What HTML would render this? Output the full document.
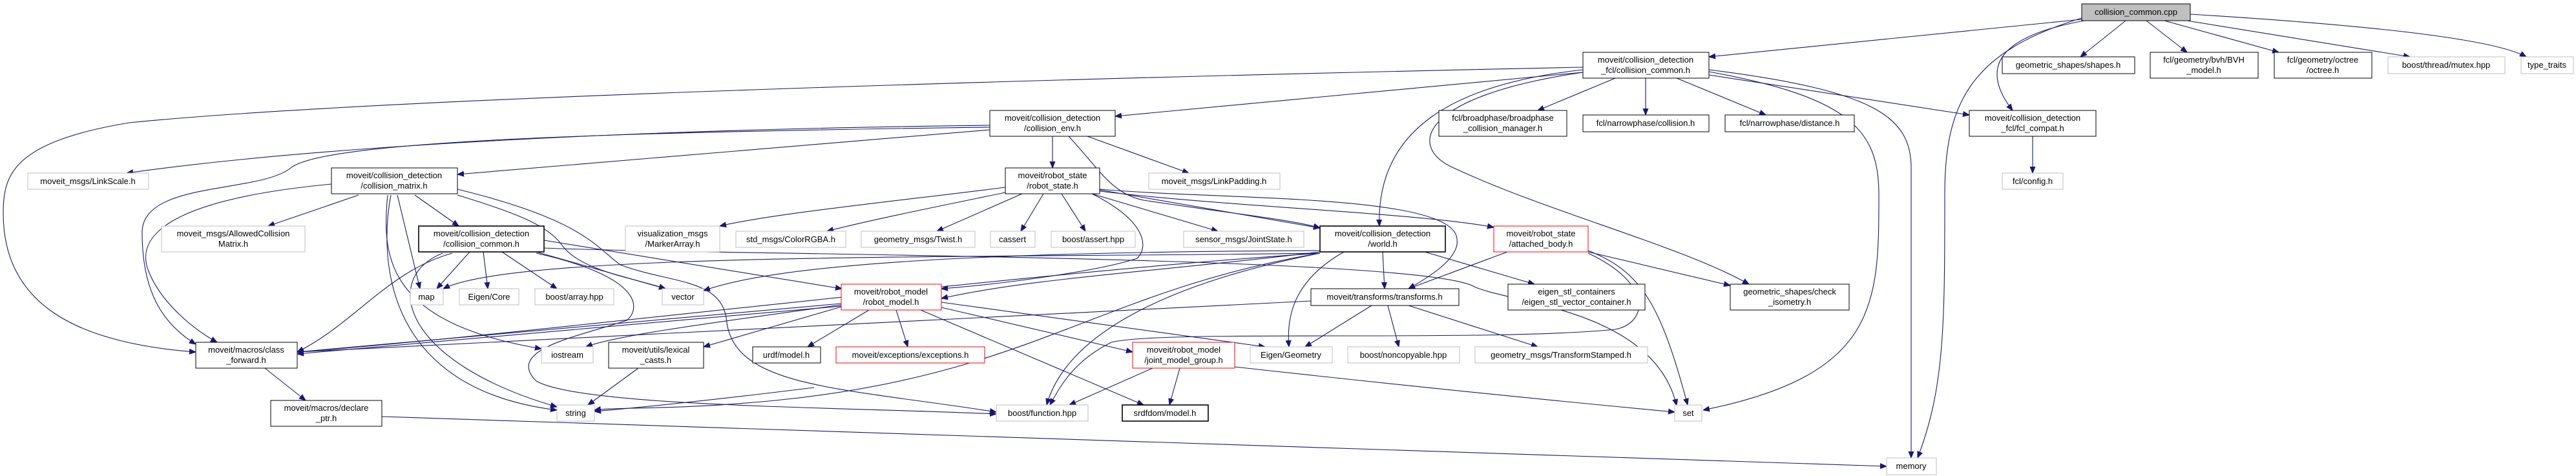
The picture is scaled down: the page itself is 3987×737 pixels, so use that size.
<!DOCTYPE html>
<html><head><meta charset="utf-8"><style>
html,body{margin:0;padding:0;background:#fff;}
svg{display:block;}
text{font-family:"Liberation Sans","DejaVu Sans",sans-serif;font-size:13px;fill:#000;text-anchor:middle;}
.e{fill:none;stroke:#191970;stroke-width:1.1;marker-end:url(#a);}
.b{fill:#fff;stroke:#000;stroke-width:1;}
.g{fill:#fff;stroke:#bfbfbf;stroke-width:1;}
.r{fill:#fff;stroke:#ff0000;stroke-width:1;}
</style></head><body>
<svg width="3987" height="737" viewBox="0 0 3987 737" xmlns="http://www.w3.org/2000/svg">
<defs><marker id="a" viewBox="0 0 10 10" refX="10" refY="5" markerWidth="10" markerHeight="10" markerUnits="userSpaceOnUse" orient="auto"><path d="M0,1 L10,5 L0,9 z" fill="#191970" stroke="#191970"/></marker></defs>
<g>
<path class="e" d="M3222,30 L2645,88"/>
<path class="e" d="M3290,32 L3220,88"/>
<path class="e" d="M3322,32 L3385,81"/>
<path class="e" d="M3350,32 L3527,81"/>
<path class="e" d="M3385,32 L3730,88"/>
<path class="e" d="M3390,22 C3600,35 3850,55 3910,88"/>
<path class="e" d="M3226,32 C3100,55 3060,100 3115,171"/>
<path class="e" d="M3222,28 C3050,80 3010,160 3010,300 C3010,500 3010,600 2968,709"/>
<path class="e" d="M2450,104 C1700,120 600,150 200,190 C20,220 5,270 5,330 C5,460 100,530 303,545"/>
<path class="e" d="M2450,112 L1726,180"/>
<path class="e" d="M2500,121 L2380,171"/>
<path class="e" d="M2547,121 L2547,178"/>
<path class="e" d="M2595,121 L2733,178"/>
<path class="e" d="M2645,116 L3048,178"/>
<path class="e" d="M2450,108 C2250,130 2130,200 2135,350"/>
<path class="e" d="M2450,112 C2190,150 2180,230 2250,260 C2400,330 2600,380 2707,440"/>
<path class="e" d="M2645,111 C2860,150 2908,200 2908,300 C2908,470 2908,580 2636,635"/>
<path class="e" d="M2645,108 C2900,140 2958,180 2958,260 L2958,709"/>
<path class="e" d="M1532,194 C1000,200 500,225 196,268"/>
<path class="e" d="M1532,197 C900,205 500,220 450,260 C400,300 220,280 220,360 C220,450 250,500 303,533"/>
<path class="e" d="M1532,201 L708,270"/>
<path class="e" d="M1629,211 L1629,260"/>
<path class="e" d="M1683,211 L1840,268"/>
<path class="e" d="M1654,211 C1700,260 1720,300 1770,310 C1900,330 2000,340 2043,353"/>
<path class="e" d="M1556,290 C1400,310 1200,330 1114,350"/>
<path class="e" d="M1556,298 C1450,320 1350,340 1280,358"/>
<path class="e" d="M1582,300 L1450,358"/>
<path class="e" d="M1615,300 L1580,358"/>
<path class="e" d="M1643,300 L1680,358"/>
<path class="e" d="M1690,300 L1885,358"/>
<path class="e" d="M1702,294 L2043,353"/>
<path class="e" d="M1702,296 C1900,320 2200,330 2312,352"/>
<path class="e" d="M1690,300 C1770,340 1780,380 1760,400 C1700,420 1550,440 1457,447"/>
<path class="e" d="M1702,293 C1900,310 2250,300 2255,370 C2260,400 2210,430 2180,447"/>
<path class="e" d="M555,302 L415,350"/>
<path class="e" d="M642,302 L710,350"/>
<path class="e" d="M513,285 C250,310 210,370 230,420 C250,470 300,510 336,530"/>
<path class="e" d="M615,302 L650,447"/>
<path class="e" d="M708,302 C800,330 850,350 870,380 C900,420 980,430 1030,447"/>
<path class="e" d="M605,302 C590,380 580,600 862,635"/>
<path class="e" d="M600,302 C590,400 600,500 838,540"/>
<path class="e" d="M708,293 C900,340 920,380 960,410 C1040,440 1120,430 1125,500 C1140,600 1300,600 1542,638"/>
<path class="e" d="M727,390 L676,447"/>
<path class="e" d="M748,390 L755,447"/>
<path class="e" d="M777,390 L862,447"/>
<path class="e" d="M830,390 L1030,447"/>
<path class="e" d="M842,372 L1303,447"/>
<path class="e" d="M842,384 C1100,395 2200,395 2282,444 C2340,470 2560,480 2595,628"/>
<path class="e" d="M685,392 C590,430 620,560 862,630"/>
<path class="e" d="M830,392 C1000,430 990,480 970,496 C900,520 780,540 830,590 C900,630 1300,630 1542,641"/>
<path class="e" d="M700,392 C600,420 550,500 460,545"/>
<path class="e" d="M2043,392 C1500,400 800,390 686,447"/>
<path class="e" d="M2043,388 C1500,390 1200,410 1089,450"/>
<path class="e" d="M2043,392 C1600,420 800,520 460,545"/>
<path class="e" d="M2043,392 C1700,450 1600,580 1200,620 C1050,635 950,630 920,635"/>
<path class="e" d="M2043,392 C1800,440 1650,520 1620,627"/>
<path class="e" d="M2080,390 C2010,430 1990,480 1995,537"/>
<path class="e" d="M2140,390 L2143,447"/>
<path class="e" d="M2205,390 L2375,440"/>
<path class="e" d="M2043,390 C1800,420 1600,430 1457,462"/>
<path class="e" d="M2333,390 L2180,447"/>
<path class="e" d="M2458,390 L2678,442"/>
<path class="e" d="M2458,388 C2540,420 2570,470 2612,627"/>
<path class="e" d="M2458,392 C2560,440 2550,500 2500,510 C2300,530 1800,510 1720,530 C1660,560 1640,600 1625,627"/>
<path class="e" d="M2029,466 L460,545"/>
<path class="e" d="M2123,473 L2020,537"/>
<path class="e" d="M2148,473 L2165,537"/>
<path class="e" d="M2180,473 L2380,537"/>
<path class="e" d="M1302,470 L460,545"/>
<path class="e" d="M1302,472 C1100,500 950,520 907,537"/>
<path class="e" d="M1302,475 L1089,537"/>
<path class="e" d="M1345,480 L1250,537"/>
<path class="e" d="M1387,480 L1405,537"/>
<path class="e" d="M1457,468 L1958,537"/>
<path class="e" d="M1457,476 L1753,545"/>
<path class="e" d="M1425,480 L1770,627"/>
<path class="e" d="M1302,474 C1000,500 900,510 460,548"/>
<path class="e" d="M988,570 L910,627"/>
<path class="e" d="M410,570 L473,620"/>
<path class="e" d="M591,645 L2920,722"/>
<path class="e" d="M1784,570 L1655,627"/>
<path class="e" d="M1826,570 L1810,627"/>
<path class="e" d="M1911,568 C2200,600 2400,620 2592,638"/>
<path class="e" d="M3146,211 L3146,268"/>
<path class="e" d="M1260,600 C1100,620 1000,630 920,637"/>
</g>
<g>
<rect class="b" x="3222" y="6" width="168" height="26" style="fill:#bfbfbf"/><text x="3306" y="23">collision_common.cpp</text>
<rect class="b" x="2450" y="81" width="195" height="40"/><text x="2547" y="97">moveit/collision_detection</text><text x="2547" y="113">_fcl/collision_common.h</text>
<rect class="b" x="3099" y="88" width="205" height="26"/><text x="3201" y="105">geometric_shapes/shapes.h</text>
<rect class="b" x="3328" y="81" width="167" height="40"/><text x="3411" y="97">fcl/geometry/bvh/BVH</text><text x="3411" y="113">_model.h</text>
<rect class="b" x="3520" y="81" width="151" height="40"/><text x="3595" y="97">fcl/geometry/octree</text><text x="3595" y="113">/octree.h</text>
<rect class="g" x="3696" y="88" width="181" height="26"/><text x="3786" y="105">boost/thread/mutex.hpp</text>
<rect class="g" x="3902" y="88" width="81" height="26"/><text x="3942" y="105">type_traits</text>
<rect class="b" x="1532" y="171" width="194" height="40"/><text x="1629" y="187">moveit/collision_detection</text><text x="1629" y="203">/collision_env.h</text>
<rect class="b" x="2227" y="171" width="198" height="40"/><text x="2326" y="187">fcl/broadphase/broadphase</text><text x="2326" y="203">_collision_manager.h</text>
<rect class="b" x="2450" y="178" width="195" height="26"/><text x="2547" y="195">fcl/narrowphase/collision.h</text>
<rect class="b" x="2670" y="178" width="200" height="26"/><text x="2770" y="195">fcl/narrowphase/distance.h</text>
<rect class="b" x="3048" y="171" width="196" height="40"/><text x="3146" y="187">moveit/collision_detection</text><text x="3146" y="203">_fcl/fcl_compat.h</text>
<rect class="g" x="43" y="268" width="187" height="25"/><text x="136" y="285">moveit_msgs/LinkScale.h</text>
<rect class="b" x="513" y="260" width="195" height="40"/><text x="610" y="276">moveit/collision_detection</text><text x="610" y="292">/collision_matrix.h</text>
<rect class="b" x="1556" y="260" width="146" height="40"/><text x="1629" y="276">moveit/robot_state</text><text x="1629" y="292">/robot_state.h</text>
<rect class="g" x="1778" y="268" width="203" height="25"/><text x="1879" y="285">moveit_msgs/LinkPadding.h</text>
<rect class="g" x="3099" y="268" width="94" height="25"/><text x="3146" y="285">fcl/config.h</text>
<rect class="g" x="250" y="350" width="222" height="40"/><text x="361" y="366">moveit_msgs/AllowedCollision</text><text x="361" y="382">Matrix.h</text>
<rect class="b" x="648" y="350" width="194" height="40" style="stroke-width:1.6"/><text x="745" y="366">moveit/collision_detection</text><text x="745" y="382">/collision_common.h</text>
<rect class="g" x="968" y="350" width="146" height="40"/><text x="1041" y="366">visualization_msgs</text><text x="1041" y="382">/MarkerArray.h</text>
<rect class="g" x="1139" y="358" width="170" height="25"/><text x="1224" y="375">std_msgs/ColorRGBA.h</text>
<rect class="g" x="1333" y="358" width="176" height="25"/><text x="1421" y="375">geometry_msgs/Twist.h</text>
<rect class="g" x="1533" y="358" width="69" height="25"/><text x="1567" y="375">cassert</text>
<rect class="g" x="1627" y="358" width="130" height="25"/><text x="1692" y="375">boost/assert.hpp</text>
<rect class="g" x="1832" y="358" width="186" height="25"/><text x="1925" y="375">sensor_msgs/JointState.h</text>
<rect class="b" x="2043" y="350" width="194" height="40" style="stroke-width:1.6"/><text x="2140" y="366">moveit/collision_detection</text><text x="2140" y="382">/world.h</text>
<rect class="r" x="2312" y="350" width="146" height="40"/><text x="2385" y="366">moveit/robot_state</text><text x="2385" y="382">/attached_body.h</text>
<rect class="g" x="635" y="447" width="51" height="25"/><text x="660" y="464">map</text>
<rect class="g" x="711" y="447" width="92" height="25"/><text x="757" y="464">Eigen/Core</text>
<rect class="g" x="828" y="447" width="122" height="25"/><text x="889" y="464">boost/array.hpp</text>
<rect class="g" x="1025" y="447" width="64" height="25"/><text x="1057" y="464">vector</text>
<rect class="r" x="1302" y="440" width="155" height="40"/><text x="1379" y="456">moveit/robot_model</text><text x="1379" y="472">/robot_model.h</text>
<rect class="b" x="2029" y="447" width="229" height="26"/><text x="2143" y="464">moveit/transforms/transforms.h</text>
<rect class="b" x="2334" y="440" width="212" height="40"/><text x="2440" y="456">eigen_stl_containers</text><text x="2440" y="472">/eigen_stl_vector_container.h</text>
<rect class="b" x="2678" y="440" width="184" height="40"/><text x="2770" y="456">geometric_shapes/check</text><text x="2770" y="472">_isometry.h</text>
<rect class="b" x="303" y="530" width="157" height="40"/><text x="381" y="546">moveit/macros/class</text><text x="381" y="562">_forward.h</text>
<rect class="g" x="838" y="537" width="80" height="25"/><text x="878" y="554">iostream</text>
<rect class="b" x="942" y="530" width="147" height="40"/><text x="1015" y="546">moveit/utils/lexical</text><text x="1015" y="562">_casts.h</text>
<rect class="b" x="1165" y="537" width="105" height="25"/><text x="1217" y="554">urdf/model.h</text>
<rect class="r" x="1294" y="537" width="230" height="25"/><text x="1409" y="554">moveit/exceptions/exceptions.h</text>
<rect class="r" x="1753" y="530" width="158" height="40"/><text x="1832" y="546">moveit/robot_model</text><text x="1832" y="562">/joint_model_group.h</text>
<rect class="g" x="1935" y="537" width="127" height="25"/><text x="1998" y="554">Eigen/Geometry</text>
<rect class="g" x="2086" y="537" width="173" height="25"/><text x="2172" y="554">boost/noncopyable.hpp</text>
<rect class="g" x="2283" y="537" width="267" height="25"/><text x="2416" y="554">geometry_msgs/TransformStamped.h</text>
<rect class="b" x="419" y="620" width="172" height="40"/><text x="505" y="636">moveit/macros/declare</text><text x="505" y="652">_ptr.h</text>
<rect class="g" x="862" y="627" width="58" height="25"/><text x="891" y="644">string</text>
<rect class="g" x="1542" y="627" width="142" height="25"/><text x="1613" y="644">boost/function.hpp</text>
<rect class="b" x="1737" y="627" width="133" height="25" style="stroke-width:1.6"/><text x="1803" y="644">srdfdom/model.h</text>
<rect class="g" x="2592" y="627" width="42" height="25"/><text x="2613" y="644">set</text>
<rect class="g" x="2920" y="709" width="77" height="26"/><text x="2958" y="726">memory</text>
</g>
</svg>
</body></html>
